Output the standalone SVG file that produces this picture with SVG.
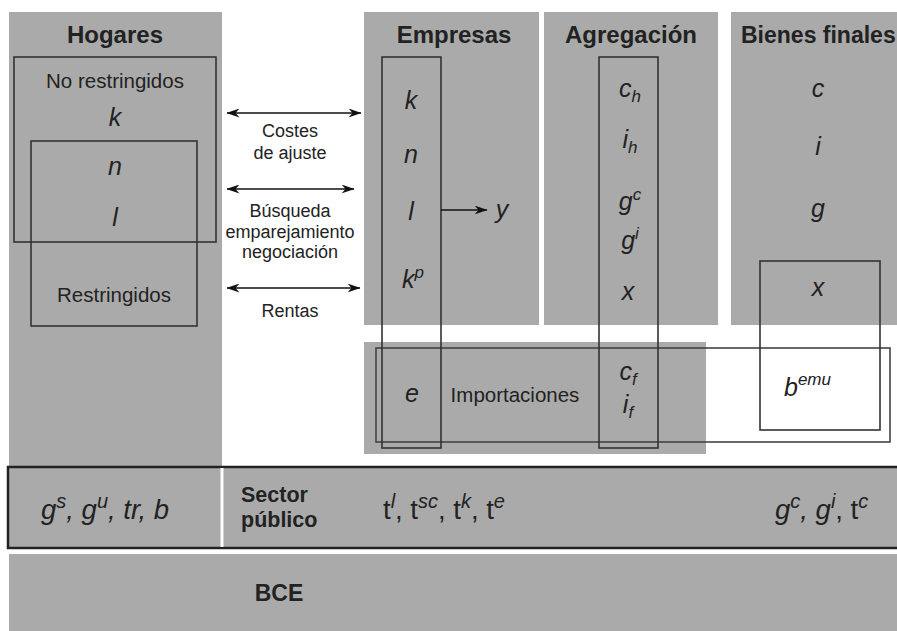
<svg xmlns="http://www.w3.org/2000/svg" width="897" height="631" viewBox="0 0 897 631">
<defs>
<marker id="ah" viewBox="0 0 13 9" refX="12.5" refY="4.5" markerWidth="13" markerHeight="9" markerUnits="userSpaceOnUse" orient="auto-start-reverse">
<path d="M0,0 L13,4.5 L0,9 L4,4.5 Z" fill="#111"/>
</marker>
<style>
.panel{fill:#aaaaaa}
.box{fill:none;stroke:#333;stroke-width:1.6}
.t{font-family:"Liberation Sans",Arial,Helvetica,sans-serif;fill:#222}
.title{font-size:24px;font-weight:bold;text-anchor:middle}
.lbl{font-size:20.5px;text-anchor:middle}
.small{font-size:18px;text-anchor:middle}
.v{font-size:25px;font-style:italic;text-anchor:middle}
.sup{font-size:17px}
.row{font-size:27.5px}
.rsup{font-size:20px;font-style:italic}
.conn{stroke:#111;stroke-width:1.5;fill:none}
</style>
</defs>
<rect width="897" height="631" fill="#fff"/>

<g id="hogares">
<rect class="panel" x="9" y="12" width="213" height="455"/>
<rect class="box" x="14" y="57" width="202" height="185"/>
<rect class="box" x="31" y="141" width="166" height="185"/>
<text class="t title" x="115" y="43">Hogares</text>
<text class="t lbl" x="115" y="88">No restringidos</text>
<text class="t v" x="115" y="126">k</text>
<text class="t v" x="115" y="175">n</text>
<text class="t v" x="115" y="226">l</text>
<text class="t lbl" x="114" y="302">Restringidos</text>
</g>

<g id="empresas">
<rect class="panel" x="364" y="12" width="175" height="313"/>
<text class="t title" x="454" y="43">Empresas</text>
</g>

<g id="agregacion">
<rect class="panel" x="544" y="12" width="174" height="313"/>
<text class="t title" x="631" y="43">Agregación</text>
</g>

<g id="bienes-finales">
<rect class="panel" x="731" y="12" width="170" height="313"/>
<text class="t title" x="741" y="43" style="text-anchor:start;font-size:23px">Bienes finales</text>
<text class="t v" x="818" y="97">c</text>
<text class="t v" x="818" y="155">i</text>
<text class="t v" x="818" y="217">g</text>
</g>

<g id="importaciones">
<rect class="panel" x="364" y="342" width="342" height="112"/>
<text class="t lbl" x="515" y="402">Importaciones</text>
<text class="t v" x="412" y="402">e</text>
</g>

<g id="importaciones-outline">
<rect class="box" x="376" y="348" width="514" height="94" style="stroke:#444"/>
</g>

<g id="empresas-box">
<rect class="box" x="382" y="57" width="59" height="391"/>
<text class="t v" x="411" y="109">k</text>
<text class="t v" x="411" y="163">n</text>
<text class="t v" x="411" y="220">l</text>
<text class="t v" x="413" y="288">k<tspan class="sup" dy="-10">p</tspan></text>
<text class="t v" x="502" y="218">y</text>
</g>

<g id="agregacion-box">
<rect class="box" x="599" y="57" width="59" height="391"/>
<text class="t v" x="630" y="97">c<tspan class="sup" dy="5">h</tspan></text>
<text class="t v" x="630" y="148">i<tspan class="sup" dy="5">h</tspan></text>
<text class="t v" x="630" y="210">g<tspan class="sup" dy="-10">c</tspan></text>
<text class="t v" x="630" y="249">g<tspan class="sup" dy="-10">i</tspan></text>
<text class="t v" x="628" y="300">x</text>
<text class="t v" x="628" y="380">c<tspan class="sup" dy="5">f</tspan></text>
<text class="t v" x="628" y="413">i<tspan class="sup" dy="5">f</tspan></text>
</g>

<g id="bemu-box">
<rect class="box" x="760" y="261" width="120" height="169"/>
<text class="t v" x="818" y="296">x</text>
<text class="t v" x="784" y="396" style="text-anchor:start">b<tspan class="sup" dy="-11">emu</tspan></text>
</g>

<g id="sector-publico">
<rect x="8" y="467" width="895" height="81" fill="#aaaaaa" stroke="#222" stroke-width="2.5"/>
<line x1="222" y1="468" x2="222" y2="547" stroke="#fff" stroke-width="3"/>
<text class="t row" x="41" y="519" style="font-style:italic">g<tspan class="rsup" dy="-11">s</tspan><tspan dy="11">, g</tspan><tspan class="rsup" dy="-11">u</tspan><tspan dy="11">, tr, b</tspan></text>
<text class="t" x="241" y="502" style="font-size:21.5px;font-weight:bold">Sector</text>
<text class="t" x="241" y="527" style="font-size:21.5px;font-weight:bold">público</text>
<text class="t row" x="383" y="519">t<tspan class="rsup" dy="-11">l</tspan><tspan dy="11">, t</tspan><tspan class="rsup" dy="-11">sc</tspan><tspan dy="11">, t</tspan><tspan class="rsup" dy="-11">k</tspan><tspan dy="11">, t</tspan><tspan class="rsup" dy="-11">e</tspan></text>
<text class="t row" x="775" y="519"><tspan font-style="italic">g</tspan><tspan class="rsup" dy="-11">c</tspan><tspan dy="11" font-style="italic">, g</tspan><tspan class="rsup" dy="-11">i</tspan><tspan dy="11">, t</tspan><tspan class="rsup" dy="-11">c</tspan></text>
</g>

<g id="bce">
<rect class="panel" x="9" y="554" width="893" height="77"/>
<text class="t" x="279" y="601" style="font-size:23px;font-weight:bold;text-anchor:middle">BCE</text>
</g>

<g id="connectors">
<line class="conn" x1="227" y1="113" x2="361" y2="113" marker-start="url(#ah)" marker-end="url(#ah)"/>
<line class="conn" x1="227" y1="189" x2="354" y2="189" marker-start="url(#ah)" marker-end="url(#ah)"/>
<line class="conn" x1="227" y1="288" x2="360" y2="288" marker-start="url(#ah)" marker-end="url(#ah)"/>
<line class="conn" x1="441" y1="210" x2="487" y2="210" marker-end="url(#ah)"/>
<text class="t small" x="290" y="137">Costes</text>
<text class="t small" x="290" y="159">de ajuste</text>
<text class="t small" x="290" y="217">Búsqueda</text>
<text class="t small" x="290" y="238">emparejamiento</text>
<text class="t small" x="290" y="258">negociación</text>
<text class="t small" x="290" y="317">Rentas</text>
</g>
</svg>
